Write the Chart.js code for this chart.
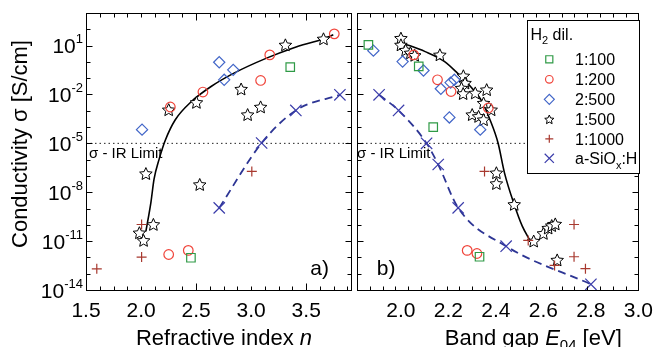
<!DOCTYPE html>
<html>
<head>
<meta charset="utf-8">
<script src="https://cdn.jsdelivr.net/npm/chart.js@4.4.1/dist/chart.umd.min.js"></script>
<style>
  body { margin: 0; background: #fff; width: 662px; height: 347px; overflow: hidden; position: relative; }
  canvas { position: absolute; top: 0; }
  #chartA { left: 0; }
  #chartB { left: 340px; }
</style>
</head>
<body>
<canvas id="chartA" width="360" height="347"></canvas>
<canvas id="chartB" width="322" height="347"></canvas>
<script>
// ---- data: x value + log10(conductivity) ----
// panel a) refractive index n
const aSq_n = [3.355, 2.453];
const aSq_lg = [-0.32, -12.02];
const aCi_n = [3.755, 3.169, 3.086, 2.562, 2.266, 2.251, 2.429];
const aCi_lg = [1.72, 0.43, -1.14, -1.85, -2.77, -11.82, -11.57];
const aDi_n = [2.009, 2.71, 2.755, 2.837];
const aDi_lg = [-4.16, -0.02, -1.1, -0.49];
const aSt_n = [3.657, 3.311, 2.909, 2.503, 2.251, 2.968, 3.086, 2.044, 2.533, 2.112, 1.985, 2.023];
const aSt_lg = [1.41, 1.04, -1.67, -2.49, -2.94, -3.24, -2.77, -6.86, -7.53, -9.98, -10.49, -10.96];
const aPl_n = [3.006, 2.005, 2.005, 1.598];
const aPl_lg = [-6.72, -9.98, -11.98, -12.7];
const aX_n = [2.71, 3.095, 3.406, 3.806];
const aX_lg = [-8.96, -4.98, -2.98, -2.02];
const aFit_n = [2.044, 2.09, 2.118, 2.163, 2.222, 2.311, 2.458, 2.636, 2.844, 3.14, 3.376, 3.672, 3.746];
const aFit_lg = [-10.4, -8.6, -7.2, -6.0, -4.78, -3.55, -2.43, -1.51, -0.69, 0.23, 0.84, 1.45, 1.66];

// panel b) band gap E04 [eV]
const bSq_E = [1.863, 2.075, 2.136, 2.331];
const bSq_lg = [1.04, -0.28, -4.0, -11.96];
const bCi_E = [2.054, 2.154, 2.211, 2.368, 2.279, 2.32];
const bCi_lg = [0.43, -1.1, -1.82, -2.83, -11.57, -11.76];
const bDi_E = [1.884, 2.007, 2.095, 2.168, 2.209, 2.225, 2.204, 2.334];
const bDi_lg = [0.69, 0.02, -0.53, -1.65, -1.27, -1.1, -3.41, -4.16];
const bSt_E = [2.0, 2.0, 2.02, 2.04, 2.058, 2.164, 2.263, 2.27, 2.255, 2.262, 2.313, 2.361, 2.348, 2.38, 2.30, 2.327, 2.348,
               2.402, 2.402, 2.477, 2.559, 2.60, 2.62, 2.635, 2.65, 2.658];
const bSt_lg = [1.45, 1.04, 0.72, 0.55, 0.4, 0.43, -0.86, -1.3, -1.61, -1.95, -1.91, -1.71, -2.53, -2.94, -3.24, -3.35, -3.55,
                -6.81, -7.47, -8.75, -11.0, -10.53, -10.2, -10.05, -9.95, -12.16];
const bPl_E = [2.352, 2.536, 2.729, 2.729, 2.647, 2.777];
const bPl_lg = [-6.72, -10.96, -9.98, -11.96, -12.49, -12.69];
const bX_E = [1.908, 1.99, 2.108, 2.157, 2.241, 2.443, 2.80];
const bX_lg = [-2.02, -2.98, -5.0, -6.3, -8.96, -11.31, -13.65];
const bFit_E = [2.007, 2.102, 2.184, 2.238, 2.293, 2.341, 2.375, 2.409, 2.436, 2.477, 2.511, 2.545];
const bFit_lg = [1.15, 0.63, 0.02, -0.69, -1.51, -2.43, -3.55, -4.98, -6.81, -8.75, -10.08, -11.0];

// axes
const xRangeA = [1.5, 3.905];
const xTicksA = [1.5, 2.0, 2.5, 3.0, 3.5];
const xRangeB = [1.815, 3.0];
const xTicksB = [2.0, 2.2, 2.4, 2.6, 2.8, 3.0];
const yExpRange = [-14, 3];
const yLabelExp = [1, -2, -5, -8, -11, -14];
const irLimitExp = -5;
const legendLabels = ['1:100', '1:200', '2:500', '1:500', '1:1000', 'a-SiOx:H'];

const F = '"Liberation Sans", Arial, Helvetica, sans-serif';
const STAR_IDX = 5; // position of the star dataset in each chart

function pts(xs, lg) {
  return xs.map((x, i) => ({ x: x, y: Math.pow(10, lg[i]) }));
}

function starPath(g, cx, cy, R, r) {
  g.beginPath();
  for (let k = 0; k < 10; k++) {
    const rad = k % 2 ? r : R;
    const a = -Math.PI / 2 + k * Math.PI / 5;
    const px = cx + rad * Math.cos(a), py = cy + rad * Math.sin(a);
    if (k) g.lineTo(px, py); else g.moveTo(px, py);
  }
  g.closePath();
}

// marker styles
const styles = [
  { kind: 'rect', radius: 6, color: '#2f9a46' },
  { kind: 'circle', radius: 4.8, color: '#f0443a' },
  { kind: 'rectRot', radius: 5.6, color: '#4266c8' },
  { kind: 'star5', radius: 6.6, color: '#000' },
  { kind: 'cross', radius: 5, color: '#a8392f' },
  { kind: 'crossRot', radius: 8, color: '#3a3caa' }
];

function scatterSet(data, st) {
  if (st.kind === 'star5') {
    // points placed by Chart.js, outline drawn by the star plugin below
    return {
      type: 'scatter', data: data, showLine: false, clip: false,
      pointStyle: 'circle', pointRadius: st.radius,
      pointBorderColor: 'rgba(0,0,0,0)', pointBackgroundColor: 'rgba(0,0,0,0)', pointBorderWidth: 0
    };
  }
  return {
    type: 'scatter', data: data, showLine: false, clip: false,
    pointStyle: st.kind, pointRadius: st.radius,
    pointBorderColor: st.color, pointBackgroundColor: 'rgba(0,0,0,0)', pointBorderWidth: 1.2
  };
}

function curveSet(data, color, width, dash) {
  return {
    type: 'line', data: data, borderColor: color, borderWidth: width, borderDash: dash || [],
    pointRadius: 0, fill: false, cubicInterpolationMode: 'monotone'
  };
}

function limitSet(range) {
  return {
    type: 'line', data: [{ x: range[0], y: Math.pow(10, irLimitExp) }, { x: range[1], y: Math.pow(10, irLimitExp) }],
    borderColor: '#222', borderWidth: 1, borderDash: [1.5, 3], pointRadius: 0, fill: false
  };
}

// draw text made of pieces with different fonts / offsets
function rich(ctx, parts, x, y, align) {
  let w = 0;
  parts.forEach(p => { ctx.font = p[1]; w += ctx.measureText(p[0]).width; });
  let cx = align === 'center' ? x - w / 2 : (align === 'right' ? x - w : x);
  ctx.textAlign = 'left';
  ctx.textBaseline = 'alphabetic';
  parts.forEach(p => {
    ctx.font = p[1];
    ctx.fillText(p[0], cx, y + (p[2] || 0));
    cx += ctx.measureText(p[0]).width;
  });
}

function drawMark(ctx, st, x, y, r) {
  ctx.save();
  ctx.strokeStyle = st.color;
  ctx.lineWidth = 1.2;
  ctx.beginPath();
  if (st.kind === 'rect') {
    const s = r * Math.SQRT1_2;
    ctx.rect(x - s, y - s, 2 * s, 2 * s);
  } else if (st.kind === 'circle') {
    ctx.arc(x, y, r, 0, Math.PI * 2);
  } else if (st.kind === 'rectRot') {
    ctx.moveTo(x - r, y); ctx.lineTo(x, y - r); ctx.lineTo(x + r, y); ctx.lineTo(x, y + r); ctx.closePath();
  } else if (st.kind === 'cross') {
    ctx.moveTo(x - r, y); ctx.lineTo(x + r, y); ctx.moveTo(x, y - r); ctx.lineTo(x, y + r);
  } else if (st.kind === 'crossRot') {
    const d = r * Math.SQRT1_2;
    ctx.moveTo(x - d, y - d); ctx.lineTo(x + d, y + d); ctx.moveTo(x - d, y + d); ctx.lineTo(x + d, y - d);
  } else {
    starPath(ctx, x, y + 0.5, r, r * 0.47);
    ctx.fillStyle = '#fff';
    ctx.fill();
    ctx.lineWidth = 1;
  }
  ctx.stroke();
  ctx.restore();
}

// stars: drawn right after their (invisible) dataset, at the element positions from Chart.js
const starPlugin = {
  id: 'stars',
  afterDatasetDraw(chart, args) {
    if (args.index !== STAR_IDX) return;
    const ctx = chart.ctx;
    chart.getDatasetMeta(STAR_IDX).data.forEach(el => {
      drawMark(ctx, styles[3], el.x, el.y, styles[3].radius);
    });
  }
};

// frame with inward ticks on all four sides
function drawFrame(chart, xMinor, xMajor) {
  const ctx = chart.ctx, a = chart.chartArea, x = chart.scales.x, y = chart.scales.y;
  ctx.save();
  ctx.strokeStyle = '#000';
  ctx.lineWidth = 1;
  const L = Math.round(a.left) + 0.5, R = Math.round(a.right) + 0.5;
  const T = Math.round(a.top) + 0.5, B = Math.round(a.bottom) + 0.5;
  ctx.strokeRect(L, T, R - L, B - T);
  ctx.beginPath();
  for (let e = yExpRange[0]; e <= yExpRange[1]; e++) {
    const py = Math.round(y.getPixelForValue(Math.pow(10, e))) + 0.5;
    const len = yLabelExp.indexOf(e) >= 0 ? 6 : 4;
    ctx.moveTo(L, py); ctx.lineTo(L + len, py);
    ctx.moveTo(R, py); ctx.lineTo(R - len, py);
  }
  xMinor.forEach(v => {
    const px = Math.round(x.getPixelForValue(v)) + 0.5;
    const len = xMajor.some(m => Math.abs(m - v) < 1e-6) ? 7 : 4;
    ctx.moveTo(px, B); ctx.lineTo(px, B - len);
    ctx.moveTo(px, T); ctx.lineTo(px, T + len);
  });
  ctx.stroke();
  ctx.restore();
}

function irText(chart, dx) {
  const ctx = chart.ctx, a = chart.chartArea, y = chart.scales.y;
  const py = y.getPixelForValue(Math.pow(10, irLimitExp));
  ctx.save();
  ctx.fillStyle = '#000';
  rich(ctx, [['\u03C3 - IR Limit', '15px ' + F]], a.left + dx, py + 15, 'left');
  ctx.restore();
}

const minorA = [];
for (let v = 1.5; v < 3.905; v += 0.125) minorA.push(+v.toFixed(3));
const minorB = [];
for (let k = 0; k <= 22; k++) minorB.push(xRangeB[0] + k * (xRangeB[1] - xRangeB[0]) / 22);

const decoA = {
  id: 'decoA',
  afterDraw(chart) {
    const ctx = chart.ctx, a = chart.chartArea, y = chart.scales.y;
    drawFrame(chart, minorA, [1.5, 2.5, 3.5]);
    irText(chart, 3);
    ctx.save();
    ctx.fillStyle = '#000';
    // y tick labels 10^n
    yLabelExp.forEach(e => {
      const py = y.getPixelForValue(Math.pow(10, e));
      rich(ctx, [['10', '21px ' + F], [String(e), '13px ' + F, -10]], 83, py + 7.5, 'right');
    });
    // y title
    ctx.save();
    ctx.translate(21, 144);
    ctx.rotate(-Math.PI / 2);
    ctx.font = '22px ' + F;
    ctx.textAlign = 'center';
    ctx.textBaseline = 'middle';
    ctx.fillText('Conductivity \u03C3 [S/cm]', 0, 0);
    ctx.restore();
    // x title
    rich(ctx, [['Refractive index ', '22px ' + F], ['n', 'italic 22px ' + F]], 224, 345, 'center');
    // panel letter
    rich(ctx, [['a)', '21px ' + F]], a.right - 40.5, 275, 'left');
    ctx.restore();
  }
};

const decoB = {
  id: 'decoB',
  afterDraw(chart) {
    const ctx = chart.ctx, a = chart.chartArea;
    drawFrame(chart, minorB, []);
    irText(chart, 0);
    ctx.save();
    ctx.fillStyle = '#000';
    rich(ctx, [['Band gap ', '22px ' + F], ['E', 'italic 22px ' + F], ['04', '15px ' + F, 5], [' [eV]', '22px ' + F]],
         193.3, 345, 'center');
    rich(ctx, [['b)', '21px ' + F]], a.left + 19.7, 275, 'left');
    // legend box
    const bx = 187.5, by = 20.5, bw = 112, bh = 153;
    ctx.fillStyle = '#fff';
    ctx.fillRect(bx, by, bw, bh);
    ctx.strokeStyle = '#000';
    ctx.lineWidth = 1;
    ctx.strokeRect(bx, by, bw, bh);
    ctx.fillStyle = '#000';
    rich(ctx, [['H', '16px ' + F], ['2', '11px ' + F, 4], [' dil.', '16px ' + F]], 190.5, 40, 'left');
    const rowY = [59.3, 79.3, 99.3, 119.3, 138.8, 158.3];
    const legR = [5, 3.8, 5, 4.8, 4, 6.5];
    styles.forEach((st, i) => {
      drawMark(ctx, st, 209.3, rowY[i], legR[i]);
      ctx.fillStyle = '#000';
      if (i === 5) {
        rich(ctx, [['a-SiO', '16px ' + F], ['x', '11px ' + F, 5], [':H', '16px ' + F]], 235, rowY[i] + 5.8, 'left');
      } else {
        rich(ctx, [[legendLabels[i], '16px ' + F]], 235, rowY[i] + 5.8, 'left');
      }
    });
    ctx.restore();
  }
};

function makeChart(id, sets, xRange, xTicks, yWidth, padRight, deco) {
  return new Chart(document.getElementById(id), {
    type: 'scatter',
    data: { datasets: sets },
    options: {
      responsive: false,
      animation: false,
      devicePixelRatio: 1,
      layout: { padding: { top: 13, right: padRight, bottom: 0, left: 0 } },
      plugins: { legend: { display: false }, tooltip: { enabled: false } },
      scales: {
        x: {
          type: 'linear', min: xRange[0], max: xRange[1],
          afterBuildTicks: s => { s.ticks = xTicks.map(v => ({ value: v })); },
          ticks: {
            color: '#000', font: { family: F, size: 21 }, padding: 9,
            maxRotation: 0, autoSkip: false, callback: v => Number(v).toFixed(1)
          },
          grid: { display: false, drawTicks: false },
          border: { display: false },
          afterFit: s => { s.height = 57; }
        },
        y: {
          type: 'logarithmic', min: Math.pow(10, yExpRange[0]), max: Math.pow(10, yExpRange[1]),
          afterBuildTicks: s => {
            const t = [];
            for (let e = yExpRange[0]; e <= yExpRange[1]; e++) t.push({ value: Math.pow(10, e) });
            s.ticks = t;
          },
          ticks: { display: false },
          grid: { display: false, drawTicks: false },
          border: { display: false },
          afterFit: s => { s.width = yWidth; }
        }
      }
    },
    plugins: [starPlugin, deco]
  });
}

// order: first dataset is drawn on top; stars sit above the curves, below the other markers
const setsA = [
  scatterSet(pts(aSq_n, aSq_lg), styles[0]),
  scatterSet(pts(aCi_n, aCi_lg), styles[1]),
  scatterSet(pts(aDi_n, aDi_lg), styles[2]),
  scatterSet(pts(aPl_n, aPl_lg), styles[4]),
  scatterSet(pts(aX_n, aX_lg), styles[5]),
  scatterSet(pts(aSt_n, aSt_lg), styles[3]),
  curveSet(pts(aFit_n, aFit_lg), '#000', 1.6),
  curveSet(pts(aX_n, aX_lg), '#2d3594', 1.8, [8, 5]),
  limitSet(xRangeA)
];

const setsB = [
  scatterSet(pts(bSq_E, bSq_lg), styles[0]),
  scatterSet(pts(bCi_E, bCi_lg), styles[1]),
  scatterSet(pts(bDi_E, bDi_lg), styles[2]),
  scatterSet(pts(bPl_E, bPl_lg), styles[4]),
  scatterSet(pts(bX_E, bX_lg), styles[5]),
  scatterSet(pts(bSt_E, bSt_lg), styles[3]),
  curveSet(pts(bFit_E, bFit_lg), '#000', 1.6),
  curveSet(pts(bX_E, bX_lg), '#2d3594', 1.8, [8, 5]),
  limitSet(xRangeB)
];

makeChart('chartA', setsA, xRangeA, xTicksA, 86, 3, decoA);
makeChart('chartB', setsB, xRangeB, xTicksB, 17, 16, decoB);
</script>
</body>
</html>
